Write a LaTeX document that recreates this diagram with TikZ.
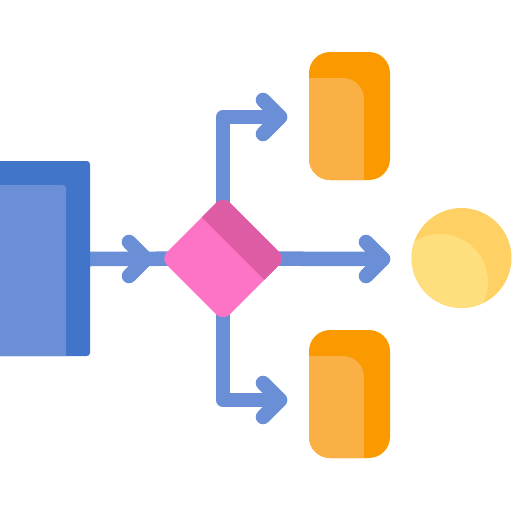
\documentclass[tikz,border=0pt]{standalone}
\usetikzlibrary{calc}
\definecolor{bluedark}{RGB}{65,117,201}
\definecolor{bluelight}{RGB}{106,143,214}
\definecolor{arrowblue}{RGB}{106,143,214}
\definecolor{pinklight}{RGB}{253,115,197}
\definecolor{pinkdark}{RGB}{221,92,163}
\definecolor{orangedark}{RGB}{250,154,0}
\definecolor{orangelight}{RGB}{250,176,69}
\definecolor{yellowdark}{RGB}{255,208,100}
\definecolor{yellowlight}{RGB}{255,223,125}
\begin{document}
\begin{tikzpicture}[x=0.01cm,y=-0.01cm,
  flow/.style={draw=arrowblue, line width=0.145cm, line cap=round, line join=round},
  flowbutt/.style={draw=arrowblue, line width=0.145cm, line cap=butt, line join=round},
  blockcorner/.style={rounded corners=6pt},
  smallcorner/.style={rounded corners=0.9pt}]
\useasboundingbox (0,0) rectangle (512,512);

% named anchor points
\coordinate (srcE) at (90,259);
\coordinate (dec) at (223,258.5);
\coordinate (decN) at (223,196);
\coordinate (decE) at (285.5,258.5);
\coordinate (decS) at (223,321);
\coordinate (decW) at (160.5,258.5);
\coordinate (elbowUp) at (223,117);
\coordinate (elbowDn) at (223,400);
\coordinate (tipUp) at (280,117);
\coordinate (tipMid) at (383,259);
\coordinate (tipDn) at (280,400);
\coordinate (tipIn) at (146,259);

% connectors
\draw[flowbutt] (srcE) -- (dec);
\draw[flow] (dec) -- (elbowUp) -- (tipUp);
\draw[flow] (dec) -- (elbowDn) -- (tipDn);
\draw[flow] (dec) -- (tipMid);
% chevrons
\foreach \t in {tipUp,tipMid,tipDn,tipIn}{
  \draw[flow] ($(\t)+(-17,-17)$) -- (\t) -- ($(\t)+(-17,17)$);
}

% source block
\fill[bluedark, smallcorner] (-10,161) rectangle (90,356);
\fill[bluelight] (-10,185) [smallcorner] -- (66,185) [sharp corners] -- (66,356) -- (-10,356) -- cycle;

% decision diamond
\begin{scope}
  \clip[rounded corners=2.6pt] (decN) -- (decE) -- (decS) -- (decW) -- cycle;
  \fill[pinklight] (decN) -- (decE) -- (decS) -- (decW) -- cycle;
  \fill[pinkdark] ($(decN)!0.34!(decW)$) -- (decN) -- (decE) -- ($(decE)!0.34!(decS)$) -- cycle;
\end{scope}

% top process block
\fill[orangedark, blockcorner] (309,52) rectangle (390,180);
\begin{scope}
  \clip[blockcorner] (309,52) rectangle (390,180);
  \fill[orangelight] (300,78) [blockcorner] -- (364,78) [sharp corners] -- (364,190) -- (300,190) -- cycle;
\end{scope}

% bottom process block
\fill[orangedark, blockcorner] (309,330) rectangle (390,458);
\begin{scope}
  \clip[blockcorner] (309,330) rectangle (390,458);
  \fill[orangelight] (300,356) [blockcorner] -- (364,356) [sharp corners] -- (364,470) -- (300,470) -- cycle;
\end{scope}

% terminal circle
\fill[yellowdark] (461.5,258) circle[radius=50];
\begin{scope}
  \clip (461.5,258) circle[radius=50];
  \fill[yellowlight] (440,282) circle[radius=48];
\end{scope}
\end{tikzpicture}
\end{document}
